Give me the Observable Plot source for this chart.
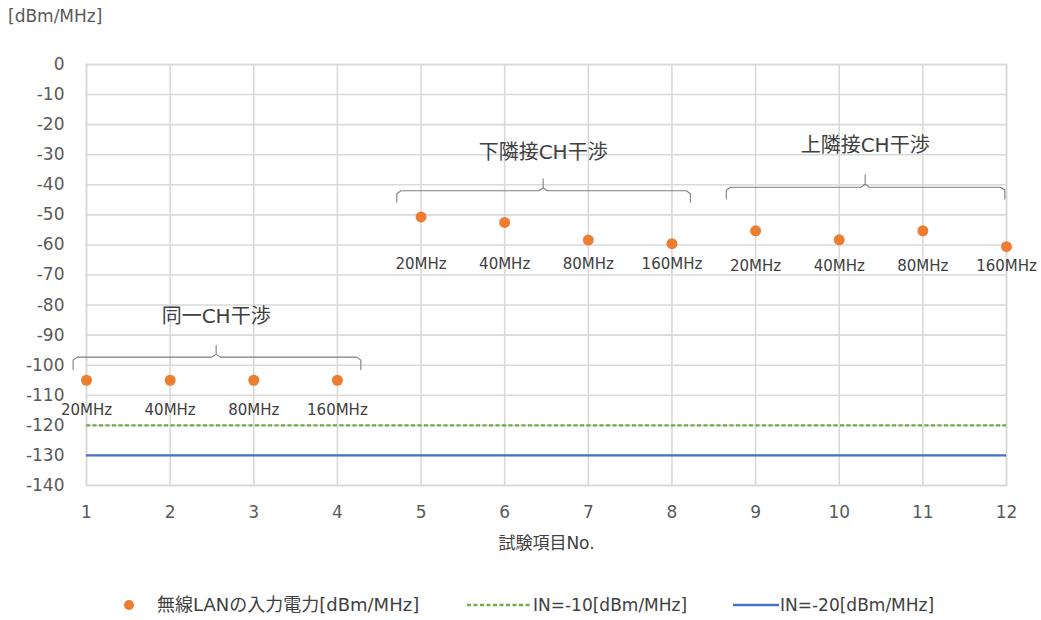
<!DOCTYPE html>
<html><head><meta charset="utf-8">
<script src="https://cdn.jsdelivr.net/npm/d3@7"></script>
<script src="https://cdn.jsdelivr.net/npm/@observablehq/plot@0.6"></script>
<style>
body{margin:0;background:#fff;font-family:"DejaVu Sans","Noto Sans CJK JP",sans-serif;}
#unit{height:36px;padding-left:8px;font-size:17px;color:#595959;line-height:32px;}
#legend{position:relative;height:40px;font-size:17px;color:#404040;}
#legend .item{position:absolute;top:14px;height:22px;line-height:22px;display:flex;align-items:center;white-space:nowrap;}
</style></head>
<body>
<div id="unit">[dBm/MHz]</div>
<div id="chart"></div>
<div id="legend"></div>
<script>
// ---- data ----
const testNo = [1, 2, 3, 4, 5, 6, 7, 8, 9, 10, 11, 12];
const power = [-105, -105, -105, -105, -50.7, -52.5, -58.4, -59.6, -55.3, -58.3, -55.3, -60.6];
const bandwidth = ["20MHz", "40MHz", "80MHz", "160MHz", "20MHz", "40MHz", "80MHz", "160MHz", "20MHz", "40MHz", "80MHz", "160MHz"];
const bandLabelY = [-114.8, -114.8, -114.8, -114.8, -66.4, -66.4, -66.4, -66.4, -67.1, -67.1, -67.1, -67.1];

const groupNames = ["同一CH干渉", "下隣接CH干渉", "上隣接CH干渉"];
const groupStart = [0.84, 4.71, 8.65];
const groupEnd = [4.28, 8.22, 11.98];
const groupMid = [2.55, 6.46, 10.31];
const groupLineY = [-97.3, -42.0, -40.8];
const groupEndY = [-101.4, -45.8, -44.7];
const groupPeakY = [-93.4, -38.0, -36.7];
const groupLabelY = [-83.8, -29.2, -26.9];

const thresholdNames = ["IN=-10[dBm/MHz]", "IN=-20[dBm/MHz]"];
const thresholdValues = [-120, -130];
const seriesName = "無線LANの入力電力[dBm/MHz]";

const yTicks = [0, -10, -20, -30, -40, -50, -60, -70, -80, -90, -100, -110, -120, -130, -140];
const xLabel = "試験項目No.";

// ---- build tables ----
const points = testNo.map((x, i) => ({x, y: power[i], band: bandwidth[i], ly: bandLabelY[i]}));
const groups = groupNames.map((name, i) => ({name, x: groupMid[i], y: groupLabelY[i]}));
const bracket = [];
groupNames.forEach((name, i) => {
  const s = groupStart[i], e = groupEnd[i], m = groupMid[i];
  const ly = groupLineY[i], ey = groupEndY[i], py = groupPeakY[i];
  const cx = 0.05, cy = 1.0;
  [[s, ey], [s, ly - cy], [s + cx, ly], [m - cx, ly], [m, ly + cy], [m, py], [m, ly + cy], [m + cx, ly],
   [e - cx, ly], [e, ly - cy], [e, ey]].forEach(([x, y]) => bracket.push({g: name, x, y}));
});

const grey = "#d9d9d9";
const textCol = "#404040";
const font = '"DejaVu Sans","Noto Sans CJK JP",sans-serif';

const plot = Plot.plot({
  width: 1041,
  height: 544,
  marginTop: 28,
  marginLeft: 86,
  marginRight: 35,
  marginBottom: 95,
  style: {fontFamily: font, fontSize: "17px", color: "#595959", background: "#fff"},
  x: {domain: [1, 12], label: null},
  y: {domain: [-140, 0], label: null},
  marks: [
    Plot.gridX(testNo, {stroke: grey, strokeOpacity: 1, strokeWidth: 1.6}),
    Plot.gridY(yTicks, {stroke: grey, strokeOpacity: 1, strokeWidth: 1.6}),
    Plot.frame({stroke: grey, strokeWidth: 1.6}),
    Plot.axisX({ticks: testNo, tickFormat: d => String(d), tickSize: 0, tickPadding: 20, fill: "#595959", fontSize: 17, label: null}),
    Plot.axisY({ticks: yTicks, tickFormat: d => String(d), tickSize: 0, tickPadding: 22, fill: "#595959", fontSize: 17, label: null}),
    Plot.ruleY([thresholdValues[0]], {stroke: "#70ad47", strokeWidth: 2.2, strokeDasharray: "4,2.5"}),
    Plot.ruleY([thresholdValues[1]], {stroke: "#4472c4", strokeWidth: 2.2}),
    Plot.line(bracket, {x: "x", y: "y", z: "g", stroke: "#7f7f7f", strokeWidth: 1.1}),
    Plot.dot(points, {x: "x", y: "y", r: 5.5, fill: "#ed7d31", stroke: "none"}),
    Plot.text(points, {x: "x", y: "ly", text: "band", fill: textCol, fontSize: 15}),
    Plot.text(groups, {x: "x", y: "y", text: "name", fill: textCol, fontSize: 20}),
    Plot.text([xLabel], {frameAnchor: "bottom", dy: 63, text: d => d, fill: textCol, fontSize: 17})
  ]
});
document.getElementById("chart").appendChild(plot);

// ---- legend ----
const legend = document.getElementById("legend");
const items = [
  {left: 121, svg: '<svg width="16" height="16"><circle cx="8" cy="8" r="5" fill="#ed7d31"/></svg>', gap: 20, text: seriesName, size: 18},
  {left: 467, svg: '<svg width="64" height="6"><line x1="0" x2="64" y1="3" y2="3" stroke="#70ad47" stroke-width="2.5" stroke-dasharray="4,2.5"/></svg>', gap: 2, text: thresholdNames[0], size: 17},
  {left: 733, svg: '<svg width="46" height="6"><line x1="0" x2="46" y1="3" y2="3" stroke="#4472c4" stroke-width="2.5"/></svg>', gap: 1, text: thresholdNames[1], size: 17}
];
items.forEach(it => {
  const d = document.createElement("div");
  d.className = "item";
  d.style.left = it.left + "px";
  d.innerHTML = it.svg + '<span style="margin-left:' + it.gap + 'px;font-size:' + it.size + 'px">' + it.text + '</span>';
  legend.appendChild(d);
});
</script>
</body></html>
